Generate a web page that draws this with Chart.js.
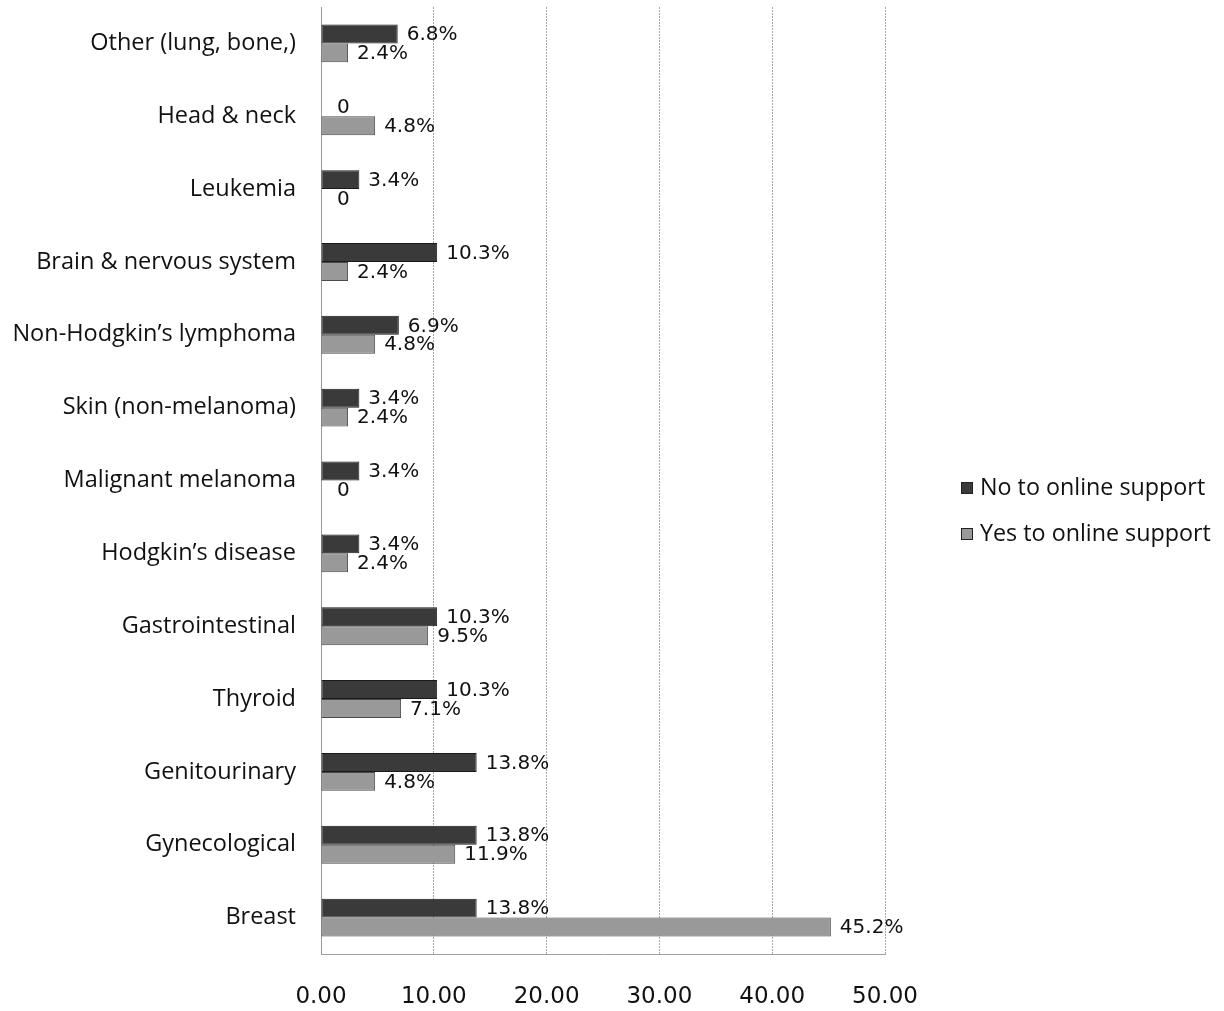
<!DOCTYPE html>
<html>
<head>
<meta charset="utf-8">
<script src="https://cdn.jsdelivr.net/npm/chart.js@4"></script>
<style>
  html, body { margin: 0; padding: 0; background: #fff; }
  #wrap { width: 1224px; height: 1011px; }
</style>
</head>
<body>
<div id="wrap"><canvas id="c" width="1224" height="1011"></canvas></div>
<script>
const categories = [
  "Other (lung, bone,)",
  "Head & neck",
  "Leukemia",
  "Brain & nervous system",
  "Non-Hodgkin\u2019s lymphoma",
  "Skin (non-melanoma)",
  "Malignant melanoma",
  "Hodgkin\u2019s disease",
  "Gastrointestinal",
  "Thyroid",
  "Genitourinary",
  "Gynecological",
  "Breast"
];
const noOnline  = [6.8, 0, 3.4, 10.3, 6.9, 3.4, 3.4, 3.4, 10.3, 10.3, 13.8, 13.8, 13.8];
const yesOnline = [2.4, 4.8, 0, 2.4, 4.8, 2.4, 0, 2.4, 9.5, 7.1, 4.8, 11.9, 45.2];
const seriesNames = ["No to online support", "Yes to online support"];
const xTicks = [0, 10, 20, 30, 40, 50];

const labelPlugin = {
  id: 'barLabels',
  afterDatasetsDraw(chart) {
    const ctx = chart.ctx;
    ctx.save();
    ctx.font = '20px "DejaVu Sans"';
    ctx.fillStyle = '#111';
    ctx.textBaseline = 'middle';
    ctx.textAlign = 'left';
    chart.data.datasets.forEach((ds, di) => {
      const meta = chart.getDatasetMeta(di);
      meta.data.forEach((bar, i) => {
        const v = ds.data[i];
        const txt = v === 0 ? '0' : v.toFixed(1) + '%';
        const x = v === 0 ? bar.x + 16 : bar.x + 9;
        ctx.fillText(txt, x, bar.y + 1);
      });
    });
    ctx.restore();
  }
};

const legendPlugin = {
  id: 'customLegend',
  afterDraw(chart) {
    const ctx = chart.ctx;
    ctx.save();
    ctx.font = '23.3px "Open Sans"';
    ctx.textBaseline = 'middle';
    ctx.textAlign = 'left';
    const ys = [488, 534];
    chart.data.datasets.forEach((ds, i) => {
      ctx.fillStyle = ds.backgroundColor;
      ctx.fillRect(961, ys[i] - 6, 12, 12);
      ctx.strokeStyle = '#222';
      ctx.lineWidth = 1;
      ctx.strokeRect(961.5, ys[i] - 5.5, 11, 11);
      ctx.fillStyle = '#111';
      ctx.fillText(ds.label, 980, ys[i]);
    });
    ctx.restore();
  }
};

new Chart(document.getElementById('c'), {
  type: 'bar',
  data: {
    labels: categories,
    datasets: [
      { label: seriesNames[0], data: noOnline, backgroundColor: '#3a3a3a', borderColor: '#1a1a1a', borderWidth: 1, borderSkipped: false },
      { label: seriesNames[1], data: yesOnline, backgroundColor: '#999999', borderColor: '#4a4a4a', borderWidth: 1, borderSkipped: false }
    ]
  },
  options: {
    indexAxis: 'y',
    responsive: false,
    animation: false,
    devicePixelRatio: 1,
    layout: { padding: { top: 7, right: 339, bottom: 0, left: 0 } },
    plugins: { legend: { display: false }, tooltip: { enabled: false } },
    datasets: { bar: { categoryPercentage: 0.52, barPercentage: 1.0 } },
    scales: {
      x: {
        min: 0, max: 50,
        afterBuildTicks(axis) { axis.ticks = xTicks.map(v => ({ value: v })); },
        afterFit(axis) { axis.height = 57; axis.paddingLeft = 0; axis.paddingRight = 0; },
        ticks: {
          font: { family: 'DejaVu Sans', size: 23 },
          color: '#111',
          padding: 29,
          callback: v => Number(v).toFixed(2)
        },
        grid: { color: '#a8a8a8', lineWidth: 1, drawTicks: false },
        border: { display: true, color: '#a0a0a0', dash: [2, 1] }
      },
      y: {
        afterFit(axis) { axis.width = 321; axis.paddingTop = 0; axis.paddingBottom = 0; },
        ticks: {
          font: { family: 'Open Sans', size: 23.5 },
          color: '#111',
          padding: 25
        },
        grid: { display: false, drawTicks: false },
        border: { display: true, color: '#999' }
      }
    }
  },
  plugins: [labelPlugin, legendPlugin]
});
</script>
</body>
</html>
